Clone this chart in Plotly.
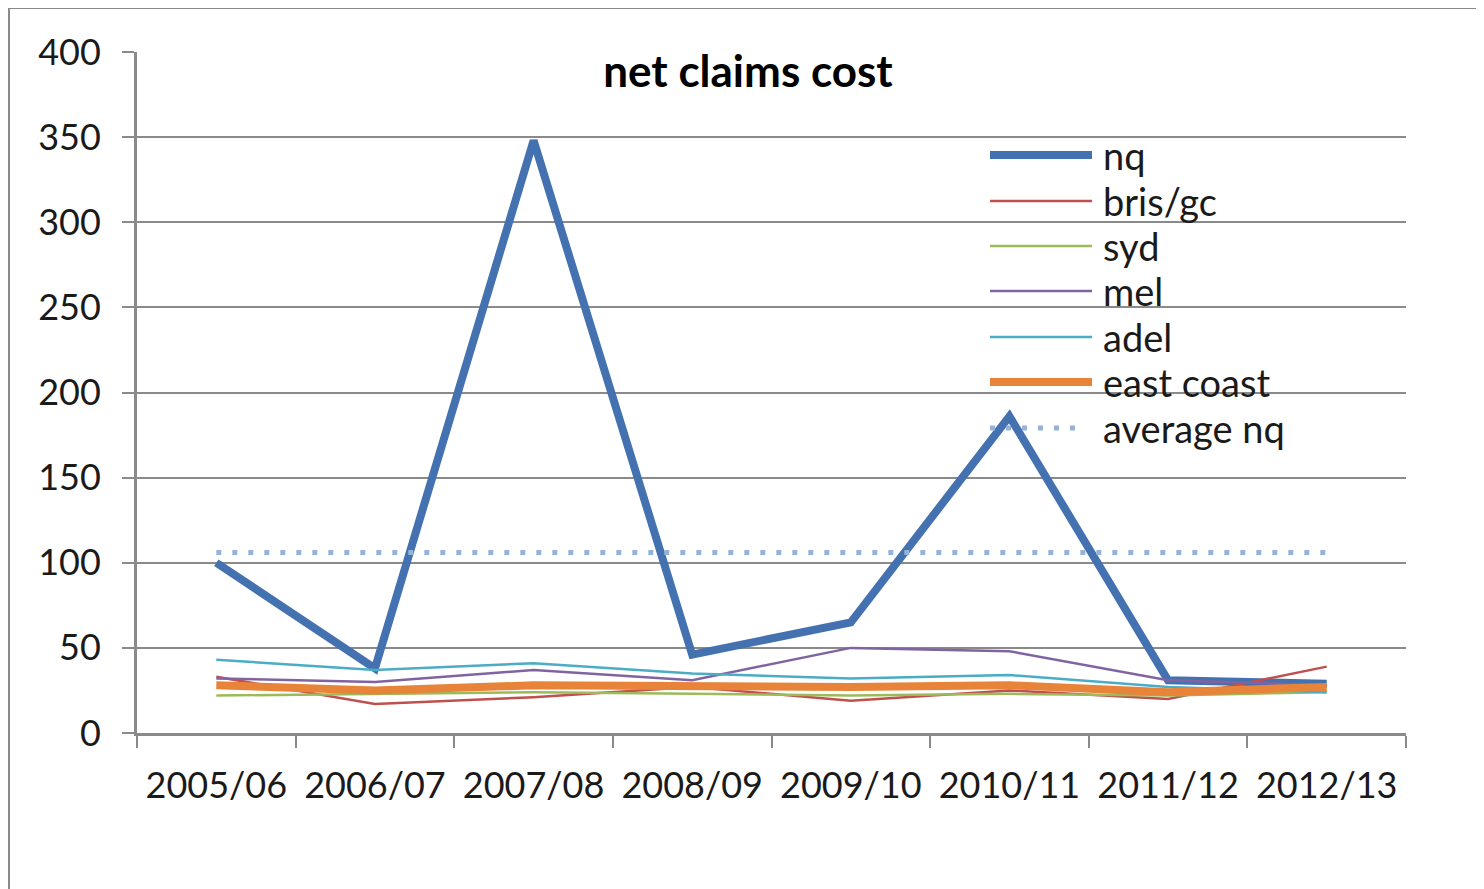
import plotly.graph_objects as go

# seasons and series values
seasons = ['2005/06', '2006/07', '2007/08', '2008/09', '2009/10', '2010/11', '2011/12', '2012/13']
nq = [100, 38, 348, 46, 65, 186, 31, 29]
bris_gc = [33, 17, 21, 27, 19, 25, 20, 39]
syd = [22, 23, 24, 23, 22, 23, 22, 24]
mel = [32, 30, 37, 31, 50, 48, 31, 28]
adel = [43, 37, 41, 35, 32, 34, 27, 24]
east_coast = [28, 25, 28, 27, 27, 28, 24, 27]
average_nq = [106, 106, 106, 106, 106, 106, 106, 106]

FONT = 'Lato'
OFF = 8  # page body margin
W, H = 1484 - OFF, 889 - OFF
L, R, T, B = 137, 1406, 52, 733  # plot area in window pixels


def px(x):
    return (x - L) / (R - L)


def py(y):
    return (B - y) / (B - T)


series = [
    ('nq', nq, '#4472B0', 8, 'solid'),
    ('bris/gc', bris_gc, '#C0504D', 2.5, 'solid'),
    ('syd', syd, '#9BBB59', 2.5, 'solid'),
    ('mel', mel, '#8064A2', 2.5, 'solid'),
    ('adel', adel, '#4BACC6', 2.5, 'solid'),
    ('east coast', east_coast, '#E8843A', 8, 'solid'),
    ('average nq', average_nq, '#95B3D7', 5, '5px,11px'),
]

fig = go.Figure()
for name, vals, color, width, dash in series:
    fig.add_trace(go.Scatter(x=seasons, y=vals, name=name, mode='lines',
                             line=dict(color=color, width=width, dash=dash),
                             showlegend=False))

# hand-drawn legend, Excel style with long line samples
shapes = []
annotations = []
row_y = [155, 201, 246, 291, 337, 382, 428]
for (name, vals, color, width, dash), ry in zip(series, row_y):
    shapes.append(dict(type='line', xref='paper', yref='paper',
                       x0=px(990), x1=px(1092 if dash == 'solid' else 1085), y0=py(ry), y1=py(ry),
                       line=dict(color=color, width=width, dash=dash)))
    annotations.append(dict(text=name, xref='paper', yref='paper', x=px(1101), y=py(ry),
                            xanchor='left', yanchor='middle', showarrow=False,
                            font=dict(family=FONT, size=38, color='#1a1a1a')))

# outer chart border (left and top only visible)
shapes.append(dict(type='line', xref='paper', yref='paper', x0=px(9), x1=px(9),
                   y0=py(8), y1=py(889), line=dict(color='#8a8a8a', width=2)))
shapes.append(dict(type='line', xref='paper', yref='paper', x0=px(9), x1=px(1484),
                   y0=py(8), y1=py(8), line=dict(color='#8a8a8a', width=2)))

fig.update_layout(
    width=W, height=H,
    margin=dict(l=L - OFF, r=1484 - R, t=T - OFF, b=889 - B),
    paper_bgcolor='white', plot_bgcolor='white',
    font=dict(family=FONT, size=36, color='#1a1a1a'),
    title=dict(text='<b>net claims cost</b>', x=px(748), xref='paper', xanchor='center',
               y=1 - (72 - OFF) / H, yanchor='middle', font=dict(family=FONT, size=44, color='#000000')),
    shapes=shapes,
    annotations=annotations,
    xaxis=dict(type='category', range=[-0.5, 7.5], tickson='boundaries',
               ticks='outside', ticklen=12, tickwidth=2, tickcolor='#8a8a8a',
               showline=True, linecolor='#8a8a8a', linewidth=3, showgrid=False,
               tickfont=dict(family=FONT, size=36, color='#1a1a1a'), ticklabelstandoff=19),
    yaxis=dict(range=[0, 400], tickvals=[0, 50, 100, 150, 200, 250, 300, 350, 400],
               ticks='outside', ticklen=12, tickwidth=2, tickcolor='#8a8a8a',
               showline=True, linecolor='#8a8a8a', linewidth=3,
               showgrid=True, gridcolor='#8a8a8a', gridwidth=2, zeroline=False,
               tickfont=dict(family=FONT, size=36, color='#1a1a1a'), ticklabelstandoff=14),
)

fig.write_html('out.html')
